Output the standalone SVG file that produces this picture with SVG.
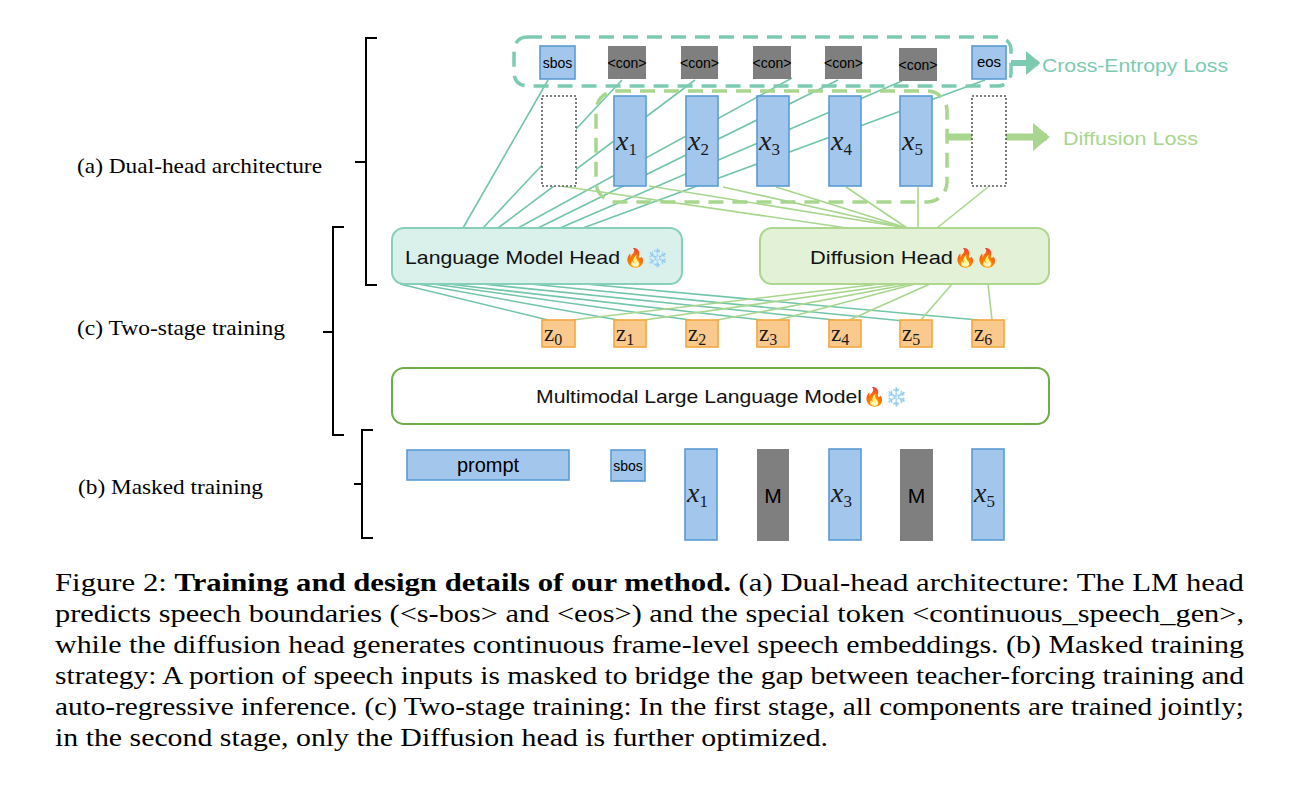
<svg xmlns="http://www.w3.org/2000/svg" width="1299" height="800" viewBox="0 0 1299 800">
<defs>
<style>
.bg{fill:#ffffff}
.tl{stroke:#72c5a8;stroke-width:1.6;fill:none}
.gl{stroke:#a9d68e;stroke-width:1.6;fill:none}
.blue{fill:#a3c6ec;stroke:#5b9bd5;stroke-width:1.6}
.gray{fill:#7f7f7f}
.dot{fill:#ffffff;stroke:#595959;stroke-width:1.6;stroke-dasharray:2 2}
.org{fill:#f9c98e;stroke:#f4a83e;stroke-width:1.6}
.sans{font-family:"Liberation Sans","Open Sans",Arial,sans-serif}
.tok{font-family:"Liberation Sans",Arial,sans-serif;font-size:14px;fill:#000;text-anchor:middle}
.mx{font-family:"Liberation Serif","DejaVu Serif",serif;font-style:italic;font-size:28px;fill:#1a1a1a}
.sub{font-style:normal;font-size:17px}
.mz{font-family:"Liberation Serif","DejaVu Serif",serif;font-size:23px;fill:#1a1a1a}
.subz{font-size:16px}
.lab{font-family:"Liberation Serif","Times New Roman",serif;font-size:21px;fill:#000}
.cap{font-family:"Liberation Serif","Times New Roman",serif;font-size:26px;fill:#000}
.brace{stroke:#000;stroke-width:2;fill:none}
.emo{font-family:"Noto Color Emoji","DejaVu Sans",sans-serif;font-size:18px}
</style>
<marker id="ahT" markerWidth="4" markerHeight="4" refX="2" refY="2" orient="auto" markerUnits="strokeWidth"><path d="M0,0 L2.4,2 L0,4 z" fill="#7ccbb1"/></marker>
<marker id="ahG" markerWidth="4" markerHeight="4" refX="2" refY="2" orient="auto" markerUnits="strokeWidth"><path d="M0,0 L2.4,2 L0,4 z" fill="#a9d68e"/></marker>
</defs>
<rect class="bg" x="0" y="0" width="1299" height="800"/>

<g id="connectors">
<line class="tl" x1="548" y1="80" x2="463" y2="228"/>
<line class="tl" x1="622" y1="80" x2="483" y2="228"/>
<line class="tl" x1="695" y1="80" x2="498" y2="228"/>
<line class="tl" x1="792" y1="78" x2="518" y2="228"/>
<line class="tl" x1="838" y1="80" x2="538" y2="228"/>
<line class="tl" x1="902" y1="81" x2="560" y2="228"/>
<line class="tl" x1="985" y1="80" x2="583" y2="228"/>
<line class="gl" x1="560" y1="186" x2="847" y2="228"/>
<line class="gl" x1="649" y1="186" x2="907" y2="228"/>
<line class="gl" x1="723" y1="187" x2="907" y2="228"/>
<line class="gl" x1="776" y1="187" x2="907" y2="228"/>
<line class="gl" x1="846" y1="187" x2="907" y2="228"/>
<line class="gl" x1="918" y1="187" x2="918" y2="228"/>
<line class="gl" x1="988" y1="187" x2="937" y2="228"/>
<line class="tl" x1="400" y1="284" x2="548" y2="320"/>
<line class="tl" x1="418" y1="284" x2="618" y2="320"/>
<line class="tl" x1="433" y1="284" x2="690" y2="320"/>
<line class="tl" x1="448" y1="284" x2="762" y2="320"/>
<line class="tl" x1="482" y1="284" x2="835" y2="320"/>
<line class="tl" x1="530" y1="284" x2="904" y2="321"/>
<line class="tl" x1="585" y1="284" x2="978" y2="320"/>
<line class="gl" x1="880" y1="284" x2="572" y2="320"/>
<line class="gl" x1="900" y1="284" x2="644" y2="320"/>
<line class="gl" x1="910" y1="284" x2="712" y2="321"/>
<line class="gl" x1="915" y1="284" x2="774" y2="321"/>
<line class="gl" x1="930" y1="284" x2="847" y2="321"/>
<line class="gl" x1="952" y1="284" x2="920" y2="321"/>
<line class="gl" x1="988" y1="284" x2="992" y2="320"/>
<line x1="1011" y1="63" x2="1038" y2="63" stroke="#7ccbb1" stroke-width="6" marker-end="url(#ahT)"/>
<line x1="947" y1="137" x2="1047" y2="137" stroke="#a9d68e" stroke-width="7" marker-end="url(#ahG)"/>
</g>

<g id="ce-group">
<rect x="514" y="37" width="497" height="49" rx="13" fill="none" stroke="#7ccbb1" stroke-width="3.5" stroke-dasharray="15 9"/>
</g>
<g id="diff-group">
<rect x="596" y="91" width="351" height="111" rx="20" fill="none" stroke="#a9d68e" stroke-width="3.5" stroke-dasharray="15 9"/>
</g>

<g id="out-tokens">
<g id="t-sbos"><rect class="blue" x="540" y="46" width="35" height="33"/><text class="tok" x="557.5" y="68">sbos</text></g>
<g id="t-con1"><rect class="gray" x="608" y="46" width="38" height="33"/><text class="tok" x="627" y="68">&lt;con&gt;</text></g>
<g id="t-con2"><rect class="gray" x="681" y="46" width="37" height="33"/><text class="tok" x="699.5" y="68">&lt;con&gt;</text></g>
<g id="t-con3"><rect class="gray" x="753" y="46" width="38" height="33"/><text class="tok" x="772" y="68">&lt;con&gt;</text></g>
<g id="t-con4"><rect class="gray" x="825" y="46" width="37" height="33"/><text class="tok" x="843.5" y="68">&lt;con&gt;</text></g>
<g id="t-con5"><rect class="gray" x="899" y="48" width="38" height="33"/><text class="tok" x="918" y="70">&lt;con&gt;</text></g>
<g id="t-eos"><rect class="blue" x="972" y="46" width="34" height="33"/><text class="tok" x="989" y="67" style="font-size:15px">eos</text></g>
</g>

<g id="x-row">
<g id="d-left"><rect class="dot" x="542" y="96" width="34" height="90"/></g>
<g id="x1"><rect class="blue" x="614" y="96" width="32" height="90"/><text class="mx" x="616" y="150">x<tspan class="sub" dy="5">1</tspan></text></g>
<g id="x2"><rect class="blue" x="686" y="96" width="32" height="90"/><text class="mx" x="688" y="150">x<tspan class="sub" dy="5">2</tspan></text></g>
<g id="x3"><rect class="blue" x="757" y="96" width="32" height="90"/><text class="mx" x="759" y="150">x<tspan class="sub" dy="5">3</tspan></text></g>
<g id="x4"><rect class="blue" x="829" y="96" width="32" height="90"/><text class="mx" x="831" y="150">x<tspan class="sub" dy="5">4</tspan></text></g>
<g id="x5"><rect class="blue" x="900" y="96" width="32" height="90"/><text class="mx" x="902" y="150">x<tspan class="sub" dy="5">5</tspan></text></g>
<g id="d-right"><rect class="dot" x="972" y="96" width="34" height="90"/></g>
</g>

<g id="loss-labels">
<text class="sans" x="1042" y="72" font-size="19" fill="#7ccbb1" textLength="186" lengthAdjust="spacingAndGlyphs">Cross-Entropy Loss</text>
<text class="sans" x="1063" y="145" font-size="19" fill="#a9d68e" textLength="135" lengthAdjust="spacingAndGlyphs">Diffusion Loss</text>
</g>

<g id="lm-head">
<rect x="392" y="228" width="290" height="56" rx="12" fill="#daf0ea" stroke="#88cfb9" stroke-width="2"/>
<text class="sans" x="405" y="264" font-size="19" fill="#111" textLength="215" lengthAdjust="spacingAndGlyphs">Language Model Head</text>
<text class="emo" x="624" y="264">🔥❄️</text>
</g>
<g id="diff-head">
<rect x="760" y="228" width="289" height="56" rx="12" fill="#e3f1d7" stroke="#add68f" stroke-width="2"/>
<text class="sans" x="810" y="264" font-size="19" fill="#111" textLength="143" lengthAdjust="spacingAndGlyphs">Diffusion Head</text>
<text class="emo" x="954" y="264">🔥🔥</text>
</g>

<g id="z-row">
<g id="z0"><rect class="org" x="542" y="320" width="33" height="27"/><text class="mz" x="544" y="341">z<tspan class="subz" dy="4">0</tspan></text></g>
<g id="z1"><rect class="org" x="614" y="320" width="32" height="27"/><text class="mz" x="616" y="341">z<tspan class="subz" dy="4">1</tspan></text></g>
<g id="z2"><rect class="org" x="686" y="320" width="32" height="27"/><text class="mz" x="688" y="341">z<tspan class="subz" dy="4">2</tspan></text></g>
<g id="z3"><rect class="org" x="757" y="320" width="32" height="27"/><text class="mz" x="759" y="341">z<tspan class="subz" dy="4">3</tspan></text></g>
<g id="z4"><rect class="org" x="829" y="320" width="32" height="27"/><text class="mz" x="831" y="341">z<tspan class="subz" dy="4">4</tspan></text></g>
<g id="z5"><rect class="org" x="900" y="320" width="32" height="27"/><text class="mz" x="902" y="341">z<tspan class="subz" dy="4">5</tspan></text></g>
<g id="z6"><rect class="org" x="972" y="320" width="32" height="27"/><text class="mz" x="974" y="341">z<tspan class="subz" dy="4">6</tspan></text></g>
</g>

<g id="mllm">
<rect x="392" y="368" width="657" height="56" rx="12" fill="#ffffff" stroke="#70ad47" stroke-width="2"/>
<text class="sans" x="536" y="403" font-size="19" fill="#111" textLength="326" lengthAdjust="spacingAndGlyphs">Multimodal Large Language Model</text>
<text class="emo" x="863" y="403">🔥❄️</text>
</g>

<g id="inputs">
<g id="in-prompt"><rect class="blue" x="407" y="450" width="162" height="30"/><text class="sans" x="488" y="472" font-size="20" text-anchor="middle">prompt</text></g>
<g id="in-sbos"><rect class="blue" x="611" y="450" width="34" height="31"/><text class="tok" x="628" y="471">sbos</text></g>
<g id="in-x1"><rect class="blue" x="685" y="449" width="32" height="91"/><text class="mx" x="687" y="502">x<tspan class="sub" dy="5">1</tspan></text></g>
<g id="in-m1"><rect class="gray" x="757" y="449" width="32" height="92"/><text class="sans" x="773" y="503" font-size="21" text-anchor="middle">M</text></g>
<g id="in-x3"><rect class="blue" x="829" y="449" width="32" height="91"/><text class="mx" x="831" y="502">x<tspan class="sub" dy="5">3</tspan></text></g>
<g id="in-m2"><rect class="gray" x="900" y="449" width="33" height="92"/><text class="sans" x="916.5" y="503" font-size="21" text-anchor="middle">M</text></g>
<g id="in-x5"><rect class="blue" x="972" y="449" width="32" height="91"/><text class="mx" x="974" y="502">x<tspan class="sub" dy="5">5</tspan></text></g>
</g>

<g id="braces">
<path class="brace" d="M377,38 H366 V285 H377 M366,162 H355"/>
<path class="brace" d="M344,227 H333 V435 H344 M333,332 H323"/>
<path class="brace" d="M373,430 H362 V538 H373 M362,484 H354"/>
</g>
<g id="side-labels">
<text class="lab" x="77" y="173" textLength="245" lengthAdjust="spacingAndGlyphs">(a) Dual-head architecture</text>
<text class="lab" x="77" y="335" textLength="208" lengthAdjust="spacingAndGlyphs">(c) Two-stage training</text>
<text class="lab" x="78" y="494" textLength="185" lengthAdjust="spacingAndGlyphs">(b) Masked training</text>
</g>

<g id="caption">
<text class="cap" x="55" y="591" textLength="1189" lengthAdjust="spacingAndGlyphs">Figure 2: <tspan font-weight="bold">Training and design details of our method.</tspan> (a) Dual-head architecture: The LM head</text>
<text class="cap" x="55" y="622" textLength="1189" lengthAdjust="spacingAndGlyphs">predicts speech boundaries (&lt;s-bos&gt; and &lt;eos&gt;) and the special token &lt;continuous_speech_gen&gt;,</text>
<text class="cap" x="55" y="653" textLength="1189" lengthAdjust="spacingAndGlyphs">while the diffusion head generates continuous frame-level speech embeddings. (b) Masked training</text>
<text class="cap" x="55" y="684" textLength="1189" lengthAdjust="spacingAndGlyphs">strategy: A portion of speech inputs is masked to bridge the gap between teacher-forcing training and</text>
<text class="cap" x="55" y="715" textLength="1189" lengthAdjust="spacingAndGlyphs">auto-regressive inference. (c) Two-stage training: In the first stage, all components are trained jointly;</text>
<text class="cap" x="55" y="746" textLength="773" lengthAdjust="spacingAndGlyphs">in the second stage, only the Diffusion head is further optimized.</text>
</g>
</svg>
